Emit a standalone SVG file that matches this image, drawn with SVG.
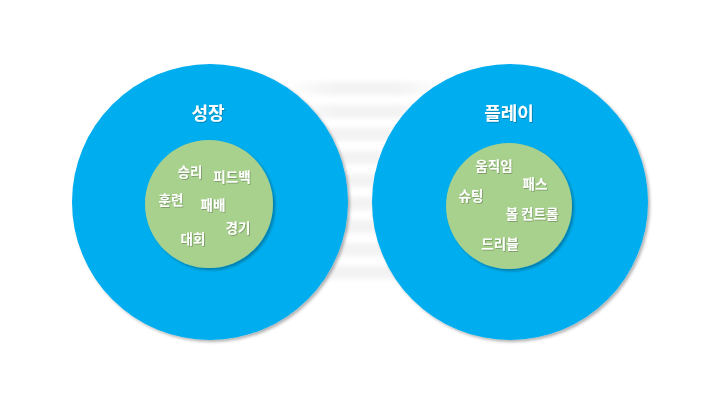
<svg xmlns="http://www.w3.org/2000/svg" width="720" height="405" viewBox="0 0 720 405">
<defs>
<style>
.outer{fill:#00AEEF;}
.inner{fill:#A9D18E;}
.title{font-family:"Noto Sans CJK KR","Noto Sans",sans-serif;font-weight:bold;font-size:18px;fill:#fff;text-anchor:middle;}
.word{font-family:"Noto Sans CJK KR","Noto Sans",sans-serif;font-weight:bold;font-size:13.5px;fill:#fff;text-anchor:middle;}
.stripe{fill:url(#sg);}
</style>
<linearGradient id="sg" x1="0" y1="0" x2="1" y2="0">
<stop offset="0" stop-color="#f3f3f3" stop-opacity="0"/>
<stop offset="0.3" stop-color="#f3f3f3" stop-opacity="1"/>
<stop offset="0.7" stop-color="#f3f3f3" stop-opacity="1"/>
<stop offset="1" stop-color="#f3f3f3" stop-opacity="0"/>
</linearGradient>
<filter id="sh" x="-10%" y="-10%" width="125%" height="125%">
<feDropShadow dx="2" dy="2" stdDeviation="1.5" flood-color="#000" flood-opacity="0.3"/>
</filter>
<filter id="tsh" x="-10%" y="-20%" width="130%" height="150%">
<feDropShadow dx="0.8" dy="0.8" stdDeviation="0.6" flood-color="#000" flood-opacity="0.3"/>
</filter>
<filter id="blur"><feGaussianBlur stdDeviation="2.5"/></filter>
</defs>
<rect width="720" height="405" fill="#fff"/>
<g id="background-stripes" filter="url(#blur)">
<rect class="stripe" x="285" y="82" width="160" height="13"/>
<rect class="stripe" x="285" y="105" width="160" height="13"/>
<rect class="stripe" x="285" y="128" width="160" height="13"/>
<rect class="stripe" x="285" y="151" width="160" height="13"/>
<rect class="stripe" x="285" y="174" width="160" height="13"/>
<rect class="stripe" x="285" y="197" width="160" height="13"/>
<rect class="stripe" x="285" y="220" width="160" height="13"/>
<rect class="stripe" x="285" y="243" width="160" height="13"/>
<rect class="stripe" x="285" y="266" width="160" height="13"/>
</g>
<g id="node-growth">
<circle class="outer" cx="210" cy="202" r="138" filter="url(#sh)"/>
<circle class="inner" cx="209" cy="204" r="64" filter="url(#sh)"/>
<g filter="url(#tsh)">
<text class="title" x="208" y="120">성장</text>
<text class="word" x="190" y="177">승리</text>
<text class="word" x="232" y="182">피드백</text>
<text class="word" x="171" y="205">훈련</text>
<text class="word" x="213" y="210">패배</text>
<text class="word" x="238" y="233">경기</text>
<text class="word" x="193" y="244">대회</text>
</g>
</g>
<g id="node-play">
<circle class="outer" cx="510" cy="202" r="138" filter="url(#sh)"/>
<circle class="inner" cx="509" cy="206" r="63" filter="url(#sh)"/>
<g filter="url(#tsh)">
<text class="title" x="509" y="120">플레이</text>
<text class="word" x="494" y="171">움직임</text>
<text class="word" x="535" y="189">패스</text>
<text class="word" x="471" y="201">슈팅</text>
<text class="word" x="532" y="219">볼 컨트롤</text>
<text class="word" x="500" y="249">드리블</text>
</g>
</g>
<g id="connectors"></g>
</svg>
